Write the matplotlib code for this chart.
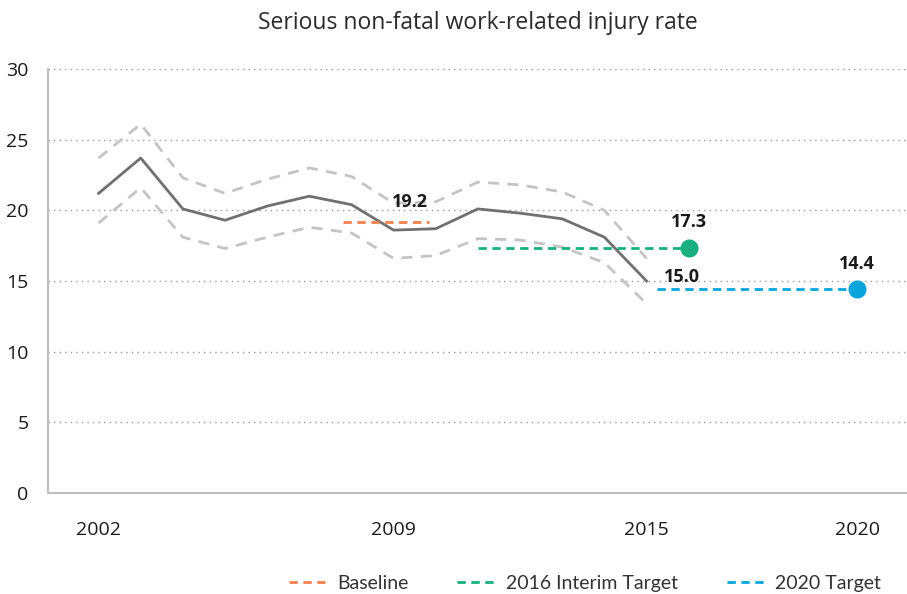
import matplotlib
matplotlib.use("Agg")
import matplotlib.pyplot as plt
from matplotlib.lines import Line2D

years = list(range(2002, 2016))
rate = [21.2, 23.7, 20.1, 19.3, 20.3, 21.0, 20.4, 18.6, 18.7, 20.1, 19.8, 19.4, 18.1, 15.0]
upper = [23.7, 26.1, 22.3, 21.2, 22.2, 23.0, 22.4, 20.5, 20.6, 22.0, 21.8, 21.3, 20.0, 16.6]
lower = [19.1, 21.6, 18.1, 17.3, 18.1, 18.8, 18.4, 16.6, 16.8, 18.0, 17.9, 17.4, 16.3, 13.4]

baseline_x = [2007.8, 2009.85]
baseline_val = 19.2
interim_x = [2011, 2016]
interim_val = 17.3
target_x = [2015.25, 2020]
target_val = 14.4
tick_years = [2002, 2009, 2015, 2020]
yticks = [0, 5, 10, 15, 20, 25, 30]

c_orange = "#F2804F"
c_green = "#17B07E"
c_blue = "#0AA5DC"
c_main = "#707070"
c_ci = "#C4C4C4"

plt.rcParams['font.family'] = ['Open Sans', 'DejaVu Sans']

fig = plt.figure(figsize=(9.07, 5.94), dpi=100)
ax = fig.add_axes([48/907, 1-493/594, 1-48/907, (493-69)/594])

ax.set_xlim(2000.8, 2021.18)
ax.set_ylim(0, 30)

for y in yticks[1:]:
    ax.axhline(y, color="#999999", lw=1, ls=(0, (1, 3)), zorder=0)

ax.plot(years, upper, color=c_ci, lw=2, ls=(0, (4, 3)), zorder=2)
ax.plot(years, lower, color=c_ci, lw=2, ls=(0, (4, 3)), zorder=2)
ax.plot(years, rate, color=c_main, lw=2, zorder=3)

ax.plot(baseline_x, [baseline_val]*2, color=c_orange, lw=2, ls=(0, (3, 2)), zorder=4)
ax.plot(interim_x, [interim_val]*2, color=c_green, lw=2, ls=(0, (3, 2)), zorder=4)
ax.plot(target_x, [target_val]*2, color=c_blue, lw=2, ls=(0, (3, 2)), zorder=4)
ax.plot([interim_x[1]], [interim_val], 'o', color=c_green, ms=12, zorder=5)
ax.plot([target_x[1]], [target_val], 'o', color=c_blue, ms=12, zorder=5)

bold = dict(fontsize=13, fontweight='bold', color="#1a1a1a", ha='center', va='center')
ax.text(2009.4, 20.6, f"{baseline_val:.1f}", **bold)
ax.text(2016, 19.2, f"{interim_val:.1f}", **bold)
ax.text(2015.83, 15.3, f"{rate[-1]:.1f}", **bold)
ax.text(2020, 16.2, f"{target_val:.1f}", **bold)

ax.set_xticks(tick_years)
ax.set_xticklabels([str(t) for t in tick_years], fontsize=14, color="#1a1a1a")
ax.set_yticks(yticks)
ax.set_yticklabels([str(t) for t in yticks], fontsize=14, color="#1a1a1a")
ax.tick_params(axis='both', length=0)
ax.tick_params(axis='x', pad=20)
ax.tick_params(axis='y', pad=14)

for s in ['top', 'right']:
    ax.spines[s].set_visible(False)
for s in ['left', 'bottom']:
    ax.spines[s].set_color("#BFBFBF")
    ax.spines[s].set_linewidth(1.5)

fig.suptitle("Serious non-fatal work-related injury rate", x=0.527, y=0.982,
             fontsize=16.5, fontweight='medium', color="#2a2a2a")

handles = [Line2D([], [], color=c, lw=2, ls=(0, (3, 2))) for c in (c_orange, c_green, c_blue)]
fig.legend(handles, ["Baseline", "2016 Interim Target", "2020 Target"],
           loc='center', bbox_to_anchor=(0.645, 0.018), ncol=3, frameon=False,
           prop={'family': ['Lato', 'DejaVu Sans'], 'size': 14},
           handlelength=2.0, handletextpad=0.5, columnspacing=2.5, labelcolor="#333333")

fig.savefig("out.png", dpi=100)
